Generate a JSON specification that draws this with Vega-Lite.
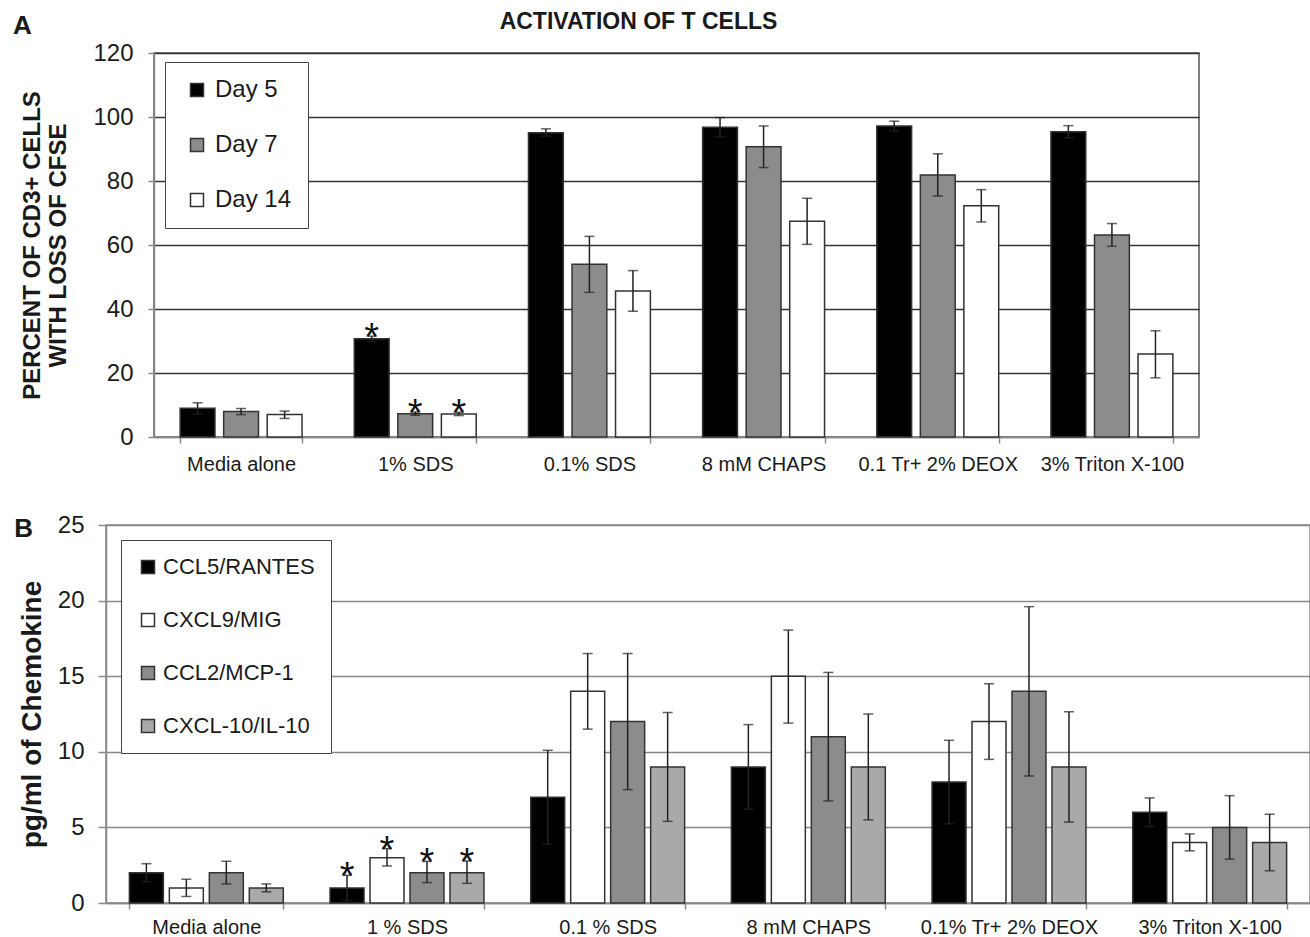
{
  "$schema": "https://vega.github.io/schema/vega-lite/v6.json",
  "background": "white",
  "padding": {"left": 12, "top": 11, "right": 0, "bottom": 0},
  "config": {
    "font": "Liberation Sans",
    "axis": {"labelColor": "#1a1a1a", "titleColor": "#1a1a1a"},
    "title": {"color": "#1a1a1a"},
    "legend": {"labelColor": "#1a1a1a"}
  },
  "title": {"text": "ACTIVATION OF T CELLS", "fontSize": 23, "fontWeight": "bold", "anchor": "middle", "frame": "bounds", "offset": -22, "dx": -23},
  "spacing": 37,
  "resolve": {
    "scale": {"x": "independent", "y": "independent", "xOffset": "independent", "fill": "independent"},
    "legend": {"fill": "independent"},
    "axis": {"x": "independent", "y": "independent"}
  },
  "datasets": {
    "tcell": [
      {"treatment": "Media alone", "day": "Day 5", "value": 9.0, "lo": 7.2, "hi": 10.7, "sig": ""},
      {"treatment": "Media alone", "day": "Day 7", "value": 8.0, "lo": 7.0, "hi": 8.9, "sig": ""},
      {"treatment": "Media alone", "day": "Day 14", "value": 7.0, "lo": 5.8, "hi": 8.1, "sig": ""},
      {"treatment": "1% SDS", "day": "Day 5", "value": 30.7, "lo": 29.9, "hi": 31.5, "sig": "*"},
      {"treatment": "1% SDS", "day": "Day 7", "value": 7.3, "lo": 6.8, "hi": 7.8, "sig": "*"},
      {"treatment": "1% SDS", "day": "Day 14", "value": 7.2, "lo": 6.7, "hi": 7.7, "sig": "*"},
      {"treatment": "0.1% SDS", "day": "Day 5", "value": 95.1, "lo": 94.0, "hi": 96.3, "sig": ""},
      {"treatment": "0.1% SDS", "day": "Day 7", "value": 54.0, "lo": 45.2, "hi": 62.7, "sig": ""},
      {"treatment": "0.1% SDS", "day": "Day 14", "value": 45.6, "lo": 39.3, "hi": 52.0, "sig": ""},
      {"treatment": "8 mM CHAPS", "day": "Day 5", "value": 96.8, "lo": 93.8, "hi": 99.8, "sig": ""},
      {"treatment": "8 mM CHAPS", "day": "Day 7", "value": 90.7, "lo": 84.2, "hi": 97.2, "sig": ""},
      {"treatment": "8 mM CHAPS", "day": "Day 14", "value": 67.4, "lo": 60.2, "hi": 74.6, "sig": ""},
      {"treatment": "0.1 Tr+ 2% DEOX", "day": "Day 5", "value": 97.2, "lo": 95.7, "hi": 98.7, "sig": ""},
      {"treatment": "0.1 Tr+ 2% DEOX", "day": "Day 7", "value": 81.9, "lo": 75.3, "hi": 88.5, "sig": ""},
      {"treatment": "0.1 Tr+ 2% DEOX", "day": "Day 14", "value": 72.3, "lo": 67.2, "hi": 77.3, "sig": ""},
      {"treatment": "3% Triton X-100", "day": "Day 5", "value": 95.4, "lo": 93.5, "hi": 97.3, "sig": ""},
      {"treatment": "3% Triton X-100", "day": "Day 7", "value": 63.1, "lo": 59.6, "hi": 66.7, "sig": ""},
      {"treatment": "3% Triton X-100", "day": "Day 14", "value": 25.9, "lo": 18.5, "hi": 33.2, "sig": ""}
    ],
    "chemo": [
      {"treatment": "Media alone", "chem": "CCL5/RANTES", "value": 2, "lo": 1.4, "hi": 2.6, "sig": ""},
      {"treatment": "Media alone", "chem": "CXCL9/MIG", "value": 1, "lo": 0.43, "hi": 1.57, "sig": ""},
      {"treatment": "Media alone", "chem": "CCL2/MCP-1", "value": 2, "lo": 1.26, "hi": 2.76, "sig": ""},
      {"treatment": "Media alone", "chem": "CXCL-10/IL-10", "value": 1, "lo": 0.74, "hi": 1.26, "sig": ""},
      {"treatment": "1 % SDS", "chem": "CCL5/RANTES", "value": 1, "lo": 0.17, "hi": 1.83, "sig": "*"},
      {"treatment": "1 % SDS", "chem": "CXCL9/MIG", "value": 3, "lo": 2.45, "hi": 3.6, "sig": "*"},
      {"treatment": "1 % SDS", "chem": "CCL2/MCP-1", "value": 2, "lo": 1.35, "hi": 2.75, "sig": "*"},
      {"treatment": "1 % SDS", "chem": "CXCL-10/IL-10", "value": 2, "lo": 1.3, "hi": 2.78, "sig": "*"},
      {"treatment": "0.1 % SDS", "chem": "CCL5/RANTES", "value": 7, "lo": 3.9, "hi": 10.1, "sig": ""},
      {"treatment": "0.1 % SDS", "chem": "CXCL9/MIG", "value": 14, "lo": 11.5, "hi": 16.5, "sig": ""},
      {"treatment": "0.1 % SDS", "chem": "CCL2/MCP-1", "value": 12, "lo": 7.5, "hi": 16.5, "sig": ""},
      {"treatment": "0.1 % SDS", "chem": "CXCL-10/IL-10", "value": 9, "lo": 5.4, "hi": 12.6, "sig": ""},
      {"treatment": "8 mM CHAPS", "chem": "CCL5/RANTES", "value": 9, "lo": 6.2, "hi": 11.8, "sig": ""},
      {"treatment": "8 mM CHAPS", "chem": "CXCL9/MIG", "value": 15, "lo": 11.9, "hi": 18.05, "sig": ""},
      {"treatment": "8 mM CHAPS", "chem": "CCL2/MCP-1", "value": 11, "lo": 6.75, "hi": 15.25, "sig": ""},
      {"treatment": "8 mM CHAPS", "chem": "CXCL-10/IL-10", "value": 9, "lo": 5.5, "hi": 12.5, "sig": ""},
      {"treatment": "0.1% Tr+ 2% DEOX", "chem": "CCL5/RANTES", "value": 8, "lo": 5.24, "hi": 10.76, "sig": ""},
      {"treatment": "0.1% Tr+ 2% DEOX", "chem": "CXCL9/MIG", "value": 12, "lo": 9.5, "hi": 14.5, "sig": ""},
      {"treatment": "0.1% Tr+ 2% DEOX", "chem": "CCL2/MCP-1", "value": 14, "lo": 8.4, "hi": 19.6, "sig": ""},
      {"treatment": "0.1% Tr+ 2% DEOX", "chem": "CXCL-10/IL-10", "value": 9, "lo": 5.35, "hi": 12.65, "sig": ""},
      {"treatment": "3% Triton X-100", "chem": "CCL5/RANTES", "value": 6, "lo": 5.05, "hi": 6.95, "sig": ""},
      {"treatment": "3% Triton X-100", "chem": "CXCL9/MIG", "value": 4, "lo": 3.45, "hi": 4.57, "sig": ""},
      {"treatment": "3% Triton X-100", "chem": "CCL2/MCP-1", "value": 5, "lo": 2.9, "hi": 7.1, "sig": ""},
      {"treatment": "3% Triton X-100", "chem": "CXCL-10/IL-10", "value": 4, "lo": 2.13, "hi": 5.87, "sig": ""}
    ]
  },
  "vconcat": [
    {
      "bounds": "flush",
      "spacing": 0,
      "hconcat": [
        {
          "width": 48,
          "height": 384,
          "view": {"stroke": null},
          "data": {"values": []},
          "mark": {"type": "point"},
          "encoding": {}
        },
        {
          "title": {"text": "A", "anchor": "start", "frame": "bounds", "fontSize": 26, "fontWeight": "bold", "offset": 2, "dx": -8},
          "width": 1045,
          "height": 384,
          "view": {"stroke": "#555", "strokeWidth": 1.5},
          "data": {"name": "tcell"},
          "encoding": {
            "x": {
              "field": "treatment", "type": "nominal",
              "sort": ["Media alone", "1% SDS", "0.1% SDS", "8 mM CHAPS", "0.1 Tr+ 2% DEOX", "3% Triton X-100"],
              "scale": {"paddingInner": 0.3, "paddingOuter": 0.15},
              "axis": {"title": null, "labelAngle": 0, "labelFontSize": 20, "labelPadding": 11, "tickBand": "extent", "tickSize": 6, "tickColor": "#888", "tickWidth": 1.5, "domainColor": "#888", "domainWidth": 1.5}
            },
            "xOffset": {"field": "day", "type": "nominal", "sort": ["Day 5", "Day 7", "Day 14"], "scale": {"paddingInner": 0.2, "paddingOuter": 0}}
          },
          "layer": [
            {
              "mark": {"type": "bar", "stroke": "#333", "strokeWidth": 1.5},
              "encoding": {
                "y": {
                  "field": "value", "type": "quantitative",
                  "title": ["PERCENT OF CD3+ CELLS", "WITH LOSS OF CFSE"],
                  "scale": {"domain": [0, 120], "nice": false},
                  "axis": {
                    "titleFontSize": 24, "titleFontWeight": "bold", "titleLineHeight": 26, "titlePadding": 22,
                    "values": [0, 20, 40, 60, 80, 100, 120],
                    "labelFontSize": 24, "labelPadding": 15,
                    "tickSize": 6, "tickColor": "#888", "tickWidth": 1.5,
                    "domainColor": "#888", "domainWidth": 1.5,
                    "grid": true, "gridWidth": 1.5,
                    "gridColor": {"condition": {"test": "datum.value === 0", "value": "#888"}, "value": "#333"}
                  }
                },
                "fill": {
                  "field": "day", "type": "nominal",
                  "scale": {"domain": ["Day 5", "Day 7", "Day 14"], "range": ["#000000", "#8c8c8c", "#ffffff"]},
                  "legend": {
                    "title": null, "orient": "none", "legendX": 59, "legendY": 9,
                    "strokeColor": "#444", "fillColor": "white", "padding": 16, "symbolOffset": 4,
                    "symbolType": "square", "symbolSize": 169, "symbolStrokeColor": "#333", "symbolStrokeWidth": 1.5,
                    "labelFontSize": 24, "labelOffset": 6, "rowPadding": 31
                  }
                }
              }
            },
            {
              "mark": {"type": "rule", "color": "#222", "strokeWidth": 1.5},
              "encoding": {"y": {"field": "lo", "type": "quantitative", "title": ["PERCENT OF CD3+ CELLS", "WITH LOSS OF CFSE"]}, "y2": {"field": "hi"}}
            },
            {
              "mark": {"type": "tick", "color": "#222", "thickness": 1.5, "size": 10},
              "encoding": {"y": {"field": "hi", "type": "quantitative", "title": ["PERCENT OF CD3+ CELLS", "WITH LOSS OF CFSE"]}}
            },
            {
              "mark": {"type": "tick", "color": "#222", "thickness": 1.5, "size": 10},
              "encoding": {"y": {"field": "lo", "type": "quantitative", "title": ["PERCENT OF CD3+ CELLS", "WITH LOSS OF CFSE"]}}
            },
            {
              "mark": {"type": "text", "fontSize": 38, "baseline": "alphabetic", "dy": 14, "color": "#111"},
              "encoding": {"y": {"field": "hi", "type": "quantitative", "title": ["PERCENT OF CD3+ CELLS", "WITH LOSS OF CFSE"]}, "text": {"field": "sig"}}
            }
          ]
        }
      ]
    },
    {
      "title": {"text": "B", "anchor": "start", "frame": "bounds", "fontSize": 26, "fontWeight": "bold", "offset": -29, "dx": -4},
      "width": 1204,
      "height": 378,
      "view": {"stroke": "#888", "strokeWidth": 1.5},
      "data": {"name": "chemo"},
      "encoding": {
        "x": {
          "field": "treatment", "type": "nominal",
          "sort": ["Media alone", "1 % SDS", "0.1 % SDS", "8 mM CHAPS", "0.1% Tr+ 2% DEOX", "3% Triton X-100"],
          "scale": {"paddingInner": 0.233, "paddingOuter": 0.1165},
          "axis": {"title": null, "labelAngle": 0, "labelFontSize": 20, "labelPadding": 8, "tickBand": "extent", "tickSize": 6, "tickColor": "#888", "tickWidth": 1.5, "domainColor": "#888", "domainWidth": 1.5}
        },
        "xOffset": {"field": "chem", "type": "nominal", "sort": ["CCL5/RANTES", "CXCL9/MIG", "CCL2/MCP-1", "CXCL-10/IL-10"], "scale": {"paddingInner": 0.15, "paddingOuter": 0}}
      },
      "layer": [
        {
          "mark": {"type": "bar", "stroke": "#333", "strokeWidth": 1.5},
          "encoding": {
            "y": {
              "field": "value", "type": "quantitative",
              "title": "pg/ml of Chemokine",
              "scale": {"domain": [0, 25], "nice": false},
              "axis": {
                "titleFontSize": 28, "titleFontWeight": "bold", "titlePadding": 11,
                "values": [0, 5, 10, 15, 20, 25],
                "labelFontSize": 24, "labelPadding": 14,
                "tickSize": 8, "tickColor": "#888", "tickWidth": 1.5,
                "domainColor": "#888", "domainWidth": 1.5,
                "grid": true, "gridWidth": 1.5, "gridColor": "#888"
              }
            },
            "fill": {
              "field": "chem", "type": "nominal",
              "scale": {"domain": ["CCL5/RANTES", "CXCL9/MIG", "CCL2/MCP-1", "CXCL-10/IL-10"], "range": ["#000000", "#ffffff", "#8c8c8c", "#a9a9a9"]},
              "legend": {
                "title": null, "orient": "none", "legendX": 15, "legendY": 15,
                "strokeColor": "#444", "fillColor": "white", "padding": 16,
                "symbolType": "square", "symbolSize": 169, "symbolStrokeColor": "#333", "symbolStrokeWidth": 1.5,
                "labelFontSize": 22, "labelOffset": 4, "rowPadding": 31, "labelLimit": 400
              }
            }
          }
        },
        {
          "mark": {"type": "rule", "color": "#222", "strokeWidth": 1.5},
          "encoding": {"y": {"field": "lo", "type": "quantitative", "title": "pg/ml of Chemokine"}, "y2": {"field": "hi"}}
        },
        {
          "mark": {"type": "tick", "color": "#222", "thickness": 1.5, "size": 10},
          "encoding": {"y": {"field": "hi", "type": "quantitative", "title": "pg/ml of Chemokine"}}
        },
        {
          "mark": {"type": "tick", "color": "#222", "thickness": 1.5, "size": 10},
          "encoding": {"y": {"field": "lo", "type": "quantitative", "title": "pg/ml of Chemokine"}}
        },
        {
          "mark": {"type": "text", "fontSize": 38, "baseline": "alphabetic", "dy": 14, "color": "#111"},
          "encoding": {"y": {"field": "hi", "type": "quantitative", "title": "pg/ml of Chemokine"}, "text": {"field": "sig"}}
        }
      ]
    }
  ]
}
